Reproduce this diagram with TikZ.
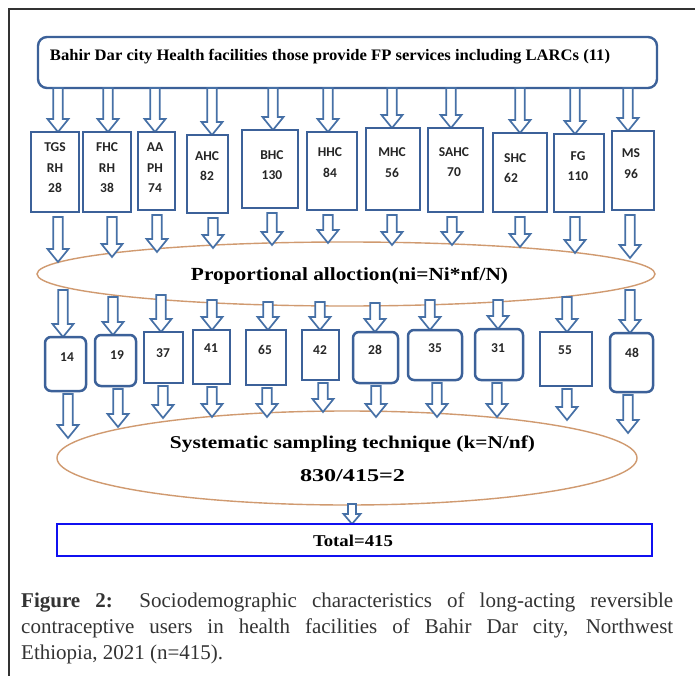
\documentclass[tikz,border=0pt]{standalone}
\usepackage{fontspec}
\usepackage{graphicx}
\setmainfont{Liberation Serif}
\newfontfamily\carl{Carlito}
\usetikzlibrary{shapes.geometric,calc}
\definecolor{boxblue}{HTML}{3C6199}
\definecolor{arrblue}{HTML}{4670A6}
\definecolor{tanedge}{HTML}{D09A70}
\definecolor{peachin}{HTML}{F0D5BE}
\definecolor{labgray}{HTML}{262626}
\definecolor{capgray}{HTML}{333333}
\definecolor{totblue}{HTML}{1010F0}
\pgfdeclareradialshading{ellshade}{\pgfpointorigin}{color(0bp)=(white); color(37bp)=(white); color(47bp)=(peachin); color(50bp)=(peachin)}
\newcommand\barrgen[5]{\draw[barrow] let \p1=(#1), \p2=(#2) in
  (\x1-#3,\y1) -- (\x1-#3,\y2+#5) -- (\x1-#4,\y2+#5) -- (\x1,\y2)
  -- (\x1+#4,\y2+#5) -- (\x1+#3,\y2+#5) -- (\x1+#3,\y1) -- cycle;}
\newcommand\barr[2]{\barrgen{#1}{#2}{4.8pt}{10.5pt}{13pt}}
\tikzset{
  facbox/.style={draw=boxblue, line width=2.5pt, fill=white, inner sep=0pt},
  rfacbox/.style={facbox, rounded corners=6pt},
  barrow/.style={draw=arrblue, line width=1.7pt, fill=white, line join=miter},
  lab/.style={font=\carl\bfseries\fontsize{13.5}{20.5}\selectfont, text=labgray, inner sep=0pt, align=center},
  numlab/.style={font=\carl\bfseries\fontsize{13.5}{15}\selectfont, text=labgray, inner sep=0pt},
  elltext/.style={font=\bfseries, text=black, inner sep=0pt},
  ell/.style={ellipse, draw=tanedge, line width=1.4pt, shading=ellshade, inner sep=0pt},
  frameline/.style={draw=capgray, line width=1.2pt},
  captext/.style={font=\fontsize{21}{26}\selectfont, text=capgray, inner sep=0pt, anchor=base west}
}
\begin{document}
\begin{tikzpicture}[x=1pt,y=-1pt]
\useasboundingbox[fill=white] (0,0) rectangle (695,676);
% frame
\coordinate (fr1) at (695,9);
\coordinate (fr2) at (9,9);
\coordinate (fr3) at (9,676);
\draw[frameline] (fr1) -- (fr2) -- (fr3);

% ellipses
\node[ell, minimum width=618pt, minimum height=64pt] (e1) at (346,274) {};
\node[ell, minimum width=580pt, minimum height=94pt] (e2) at (347,458) {};

% top box
\node[draw=boxblue, line width=2.4pt, rounded corners=9pt, fill=white, minimum width=619pt, minimum height=51pt, inner sep=0pt] (top) at (347.5,62.5) {};
\node[elltext] (toptext) at (330,57) {\resizebox{560pt}{\height}{\fontsize{16}{18}\selectfont Bahir Dar city Health facilities those provide FP services including LARCs (11)}};

% arrows top -> facilities
\foreach \i/\x/\ys/\ye in {1/58/88/132, 2/108/88/132, 3/155/88/132, 4/212/88/135, 5/273/88/130, 6/328/88/132, 7/392/88/128, 8/451/88/128, 9/520/88/133, 10/575/88/134, 11/628/88/131}{
  \coordinate (as\i) at (\x,\ys);
  \coordinate (ae\i) at (\x,\ye);
  \barr{as\i}{ae\i}
}
% arrows facilities -> ellipse 1
\foreach \i/\x/\ys/\ye in {1/58/217/262, 2/112/217/257, 3/157/215/252, 4/213/218/248, 5/272/213/245, 6/328/215/243, 7/392/215/245, 8/452/217/245, 9/520/217/247, 10/575/217/253, 11/630/215/258}{
  \coordinate (bs\i) at (\x,\ys);
  \coordinate (be\i) at (\x,\ye);
  \barr{bs\i}{be\i}
}
% arrows ellipse 1 -> sample boxes
\foreach \i/\x/\ys/\ye in {1/63/290/337, 2/113/297/335, 3/161/295/332, 4/212/300/330, 5/268/302/330, 6/320/302/330, 7/375/303/332, 8/430/300/330, 9/498/300/329, 10/567/297/332, 11/630/290/333}{
  \coordinate (cs\i) at (\x,\ys);
  \coordinate (ce\i) at (\x,\ye);
  \barr{cs\i}{ce\i}
}
% arrows sample boxes -> ellipse 2
\foreach \i/\x/\ys/\ye in {1/68/394/438, 2/118/389/427, 3/163/386/418, 4/212/387/417, 5/267/388/417, 6/323/383/412, 7/376/386/417, 8/437/383/417, 9/497/383/417, 10/567/389/420, 11/628/395/433}{
  \coordinate (ds\i) at (\x,\ys);
  \coordinate (de\i) at (\x,\ye);
  \barr{ds\i}{de\i}
}

% facility boxes
\foreach \n/\cx/\cy/\w/\h in {1/55/172/48/80, 2/107/172/48/80, 3/156.5/171/37/78, 4/207.5/174/41/78, 5/270/169/56/78, 6/332/171/50/78, 7/393/169/54/82, 8/455.5/170/55/84, 9/520/172.5/54/79, 10/579/173/50/78, 11/633/170.5/42/79}{
  \node[facbox, minimum width=\w pt, minimum height=\h pt] (f\n) at (\cx,\cy) {};
}
\node[lab] (l1) at (55,168) {TGS\\RH\\28};
\node[lab] (l2) at (107,168) {FHC\\RH\\38};
\node[lab] (l3) at (155,168) {AA\\PH\\74};
\node[lab] (l4) at (207,166) {AHC\\82};
\node[lab] (l5) at (272,165) {BHC\\130};
\node[lab] (l6) at (330,162.5) {HHC\\84};
\node[lab] (l7) at (392,162.5) {MHC\\56};
\node[lab] (l8) at (454,162) {SAHC\\70};
\node[lab, align=left, anchor=west] (l9) at (504,168) {SHC\\62};
\node[lab] (l10) at (578,166) {FG\\110};
\node[lab] (l11) at (631,163.5) {MS\\96};

% ellipse 1 text
\node[elltext] (e1t) at (349.5,276) {\resizebox{317pt}{\height}{\fontsize{18.5}{20}\selectfont Proportional alloction(ni=Ni*nf/N)}};

% sample boxes
\node[rfacbox, minimum width=41pt, minimum height=54pt] (s1) at (65.5,364) {};
\node[rfacbox, minimum width=41pt, minimum height=51pt] (s2) at (115.5,360.5) {};
\node[facbox, minimum width=39pt, minimum height=51pt] (s3) at (163.5,357.5) {};
\node[facbox, minimum width=37pt, minimum height=54pt] (s4) at (211.5,357) {};
\node[facbox, minimum width=40pt, minimum height=55pt] (s5) at (266,357.5) {};
\node[facbox, minimum width=37pt, minimum height=50pt] (s6) at (320.5,355) {};
\node[rfacbox, minimum width=45pt, minimum height=51pt] (s7) at (375.5,357.5) {};
\node[rfacbox, minimum width=54pt, minimum height=50pt] (s8) at (435,355) {};
\node[rfacbox, minimum width=48pt, minimum height=51pt] (s9) at (499,354.5) {};
\node[facbox, minimum width=52pt, minimum height=54pt] (s10) at (566,359) {};
\node[rfacbox, minimum width=43pt, minimum height=59pt] (s11) at (631.5,362.5) {};
\node[numlab] (n1) at (67,357) {14};
\node[numlab] (n2) at (117,355) {19};
\node[numlab] (n3) at (163,353) {37};
\node[numlab] (n4) at (211,348) {41};
\node[numlab] (n5) at (265,350) {65};
\node[numlab] (n6) at (320,350) {42};
\node[numlab] (n7) at (375,350) {28};
\node[numlab] (n8) at (435,348) {35};
\node[numlab] (n9) at (498,348) {31};
\node[numlab] (n10) at (565,350) {55};
\node[numlab] (n11) at (632,353) {48};

% ellipse 2 text
\node[elltext] (e2t1) at (352.5,444) {\resizebox{365pt}{\height}{\fontsize{18}{20}\selectfont Systematic sampling technique (k=N/nf)}};
\node[elltext] (e2t2) at (352.5,476) {\resizebox{105pt}{\height}{\fontsize{18}{20}\selectfont 830/415=2}};

% total
\coordinate (ts) at (352,504);
\coordinate (te) at (352,524);
\barrgen{ts}{te}{4pt}{8.5pt}{10pt}
\node[draw=totblue, line width=2.8pt, fill=white, minimum width=595pt, minimum height=32pt, inner sep=0pt] (tot) at (354.5,540) {};
\node[elltext] (tott) at (353,541) {\resizebox{80pt}{\height}{\fontsize{16.5}{19}\selectfont Total=415}};

% caption
\node[captext] (cap1) at (21,607) {\makebox[652pt][s]{\textbf{Figure 2:} Sociodemographic characteristics of long-acting reversible}};
\node[captext] (cap2) at (21,633) {\makebox[652pt][s]{contraceptive users in health facilities of Bahir Dar city, Northwest}};
\node[captext] (cap3) at (21,659) {Ethiopia, 2021 (n=415).};
\end{tikzpicture}
\end{document}
